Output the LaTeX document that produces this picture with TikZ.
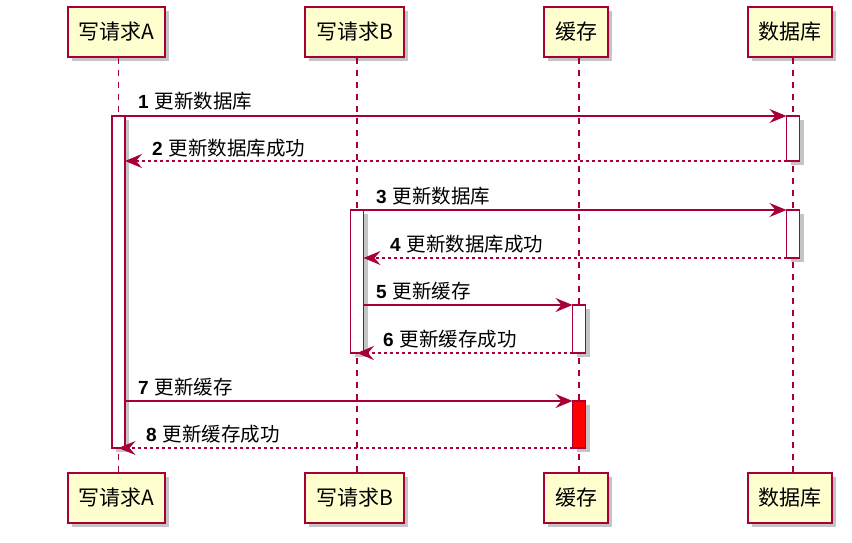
\documentclass[tikz,border=0pt]{standalone}
\usepackage{fontspec}
\setmainfont{Noto Sans CJK SC}
\newfontfamily\numfont{Liberation Sans}
\usetikzlibrary{arrows.meta,shadows}
\definecolor{pbord}{HTML}{A80036}
\definecolor{pfill}{HTML}{FEFECE}
\tikzset{
  pshadow/.style={drop shadow={shadow xshift=4pt, shadow yshift=-4pt, fill=black!45, opacity=0.5}},
  participant/.style={rectangle, draw=pbord, line width=1.4pt, fill=pfill, inner sep=0pt,
    minimum height=50pt, pshadow, font=\fontsize{21}{25}\selectfont},
  act/.style={rectangle, draw=pbord, fill=white, line width=1.2pt, inner sep=0pt, outer sep=0pt,
    minimum width=13pt, pshadow},
  life/.style={draw=pbord, line width=1.1pt, dash pattern=on 6pt off 6pt},
  msg/.style={draw=pbord, line width=1.2pt, -{Stealth[length=17pt,width=14pt,inset=6pt]}},
  ret/.style={msg, dash pattern=on 3pt off 3pt},
  lbl/.style={anchor=base west, inner sep=0pt, font=\fontsize{19.5}{23}\selectfont},
}
\newcommand{\mnum}[1]{{\numfont\bfseries\fontsize{19}{23}\selectfont #1}\hspace{6pt}}
\begin{document}
\begin{tikzpicture}[x=1pt,y=-1pt]
\useasboundingbox (0,0) rectangle (852,543);

% participants (top and bottom)
\node[participant, minimum width=97pt] (tA) at (116.5,32) {写请求A};
\node[participant, minimum width=99pt] (tB) at (354.5,32) {写请求B};
\node[participant, minimum width=64pt] (tC) at (576,32) {缓存};
\node[participant, minimum width=84pt] (tD) at (790,32) {数据库};
\node[participant, minimum width=97pt] (bA) at (116.5,498) {写请求A};
\node[participant, minimum width=99pt] (bB) at (354.5,498) {写请求B};
\node[participant, minimum width=64pt] (bC) at (576,498) {缓存};
\node[participant, minimum width=84pt] (bD) at (790,498) {数据库};

% lifeline anchors
\coordinate (xA) at (118.5,0);
\coordinate (xB) at (357,0);
\coordinate (xC) at (579,0);
\coordinate (xD) at (793,0);

\draw[life] (tA.south -| xA) -- (bA.north -| xA);
\draw[life] (tB.south -| xB) -- (bB.north -| xB);
\draw[life] (tC.south -| xC) -- (bC.north -| xC);
\draw[life] (tD.south -| xD) -- (bD.north -| xD);

% activations
\node[act, minimum height=332pt] (aA) at (118.5,282) {};
\node[act, minimum height=143pt] (aB) at (357,281.5) {};
\node[act, minimum height=48pt] (aC1) at (579,329) {};
\node[act, minimum height=47pt, fill=red] (aC2) at (579,424.5) {};
\node[act, minimum height=45pt] (aD1) at (793,138.5) {};
\node[act, minimum height=48pt] (aD2) at (793,234) {};

% messages
\draw[msg] (aA.north east) -- (aD1.north west);
\node[lbl] (l1) at (138,109) {\mnum{1}更新数据库};

\draw[ret] (aD1.south west) -- (aA.east |- aD1.south);
\node[lbl] (l2) at (152,155) {\mnum{2}更新数据库成功};

\draw[msg] (aB.north east) -- (aD2.north west);
\node[lbl] (l3) at (376,203) {\mnum{3}更新数据库};

\draw[ret] (aD2.south west) -- (aB.east |- aD2.south);
\node[lbl] (l4) at (390,251) {\mnum{4}更新数据库成功};

\draw[msg] (aB.east |- aC1.north) -- (aC1.north west);
\node[lbl] (l5) at (376,298) {\mnum{5}更新缓存};

\draw[ret] (aC1.south west) -- (aB.south);
\node[lbl] (l6) at (383,346) {\mnum{6}更新缓存成功};

\draw[msg] (aA.east |- aC2.north) -- (aC2.north west);
\node[lbl] (l7) at (138,394) {\mnum{7}更新缓存};

\draw[ret] (aC2.south west) -- (aA.south);
\node[lbl] (l8) at (146,441) {\mnum{8}更新缓存成功};
\end{tikzpicture}
\end{document}
